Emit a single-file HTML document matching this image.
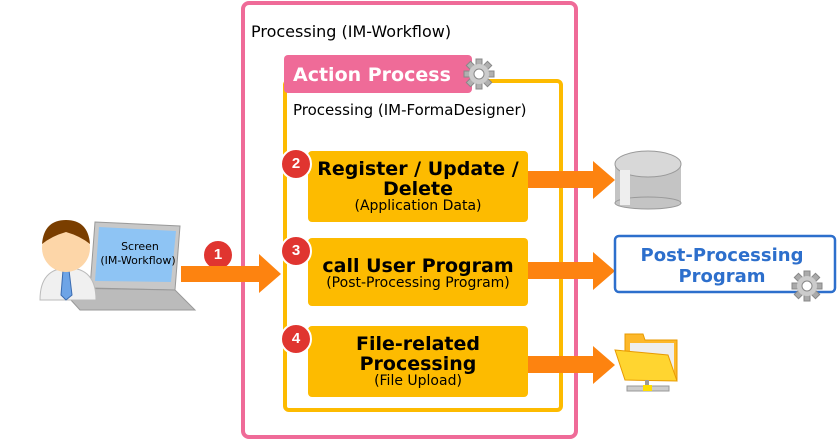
<!DOCTYPE html>
<html><head><style>
body{margin:0;width:837px;height:439px;background:#fff;position:relative;overflow:hidden;font-family:"Liberation Sans","DejaVu Sans",sans-serif}
.a{position:absolute}
.box{position:absolute;left:308px;width:220px;background:#fdbb00;border-radius:4px;text-align:center;color:#000}
.box b{font-family:"DejaVu Sans",sans-serif;font-size:19px;line-height:20px;display:block}
.box s{text-decoration:none;display:block;line-height:15px;font-family:"DejaVu Sans",sans-serif;font-size:14px}
.num{position:absolute;width:28px;height:28px;border-radius:50%;background:#e03530;border:2px solid #fff;color:#fff;font-weight:bold;font-size:15px;text-align:center;line-height:28px}
</style></head><body>
<div class="a" style="left:241px;top:1px;width:329px;height:430px;border:4px solid #ef6b98;border-radius:8px"></div>
<div class="a" style="left:251px;top:22px;font-size:16px;font-family:'DejaVu Sans',sans-serif">Processing (IM-Workflow)</div>
<div class="a" style="left:283px;top:79px;width:272px;height:325px;border:4px solid #fdbb00;border-radius:6px"></div>
<div class="a" style="left:284px;top:55px;width:188px;height:38px;background:#ef6b98;border-radius:4px;color:#fff;font-weight:bold;font-size:19px;line-height:40px;padding-left:9px;box-sizing:border-box;font-family:'DejaVu Sans',sans-serif">Action Process</div>
<svg class="a" style="left:463px;top:58px" width="32" height="32" viewBox="-16 -16 32 32"><g fill="#b0b0b0" stroke="#888"><rect x="-3" y="-15" width="6" height="30"/><rect x="-3" y="-15" width="6" height="30" transform="rotate(45)"/><rect x="-3" y="-15" width="6" height="30" transform="rotate(90)"/><rect x="-3" y="-15" width="6" height="30" transform="rotate(135)"/></g><circle r="10" fill="#ccc"/><circle r="5" fill="#fff" stroke="#888"/></svg>
<div class="a" style="left:293px;top:101px;font-size:15px;font-family:'DejaVu Sans',sans-serif">Processing (IM-FormaDesigner)</div>

<div class="box" style="top:151px;height:71px;padding-top:8px;box-sizing:border-box"><b>Register / Update /<br>Delete</b><s>(Application Data)</s></div>
<div class="box" style="top:238px;height:68px;padding-top:18px;box-sizing:border-box"><b>call User Program</b><s>(Post-Processing Program)</s></div>
<div class="box" style="top:326px;height:71px;padding-top:8px;box-sizing:border-box"><b>File-related<br>Processing</b><s>(File Upload)</s></div>
<div class="num" style="left:280px;top:148px">2</div>
<div class="num" style="left:280px;top:235px">3</div>
<div class="num" style="left:280px;top:323px">4</div>
<div class="num" style="left:202px;top:239px">1</div>

<svg class="a" style="left:0;top:0" width="837" height="439">
<g fill="#fd8310">
<path d="M181 266H259V254L281 274L259 293V282H181Z"/>
<path d="M528 171H593V161L615 180L593 199V188H528Z"/>
<path d="M528 262H593V252L615 271L593 290V279H528Z"/>
<path d="M528 356H593V346L615 365L593 384V373H528Z"/>
</g>
<rect x="615" y="165" width="66" height="38" fill="#c4c4c4"/>
<ellipse cx="648" cy="203" rx="33" ry="6" fill="#c4c4c4" stroke="#999"/>
<ellipse cx="648" cy="164" rx="33" ry="13" fill="#d8d8d8" stroke="#999"/>
<rect x="620" y="170" width="10" height="35" fill="#eee"/>
<rect x="615" y="236" width="220" height="56" rx="4" fill="#fff" stroke="#2d6fcc" stroke-width="2.5"/>
<text x="722" y="261" fill="#2d6fcc" font-weight="bold" font-size="18" text-anchor="middle" font-family="DejaVu Sans">Post-Processing</text>
<text x="722" y="282" fill="#2d6fcc" font-weight="bold" font-size="18" text-anchor="middle" font-family="DejaVu Sans">Program</text>
<g transform="translate(807,286)"><g fill="#aaa" stroke="#888"><rect x="-3" y="-15" width="6" height="30"/><rect x="-3" y="-15" width="6" height="30" transform="rotate(45)"/><rect x="-3" y="-15" width="6" height="30" transform="rotate(90)"/><rect x="-3" y="-15" width="6" height="30" transform="rotate(135)"/></g><circle r="10" fill="#ccc"/><circle r="5" fill="#fff" stroke="#888"/></g>
<path d="M625 334H643L645 340H677V380H625Z" fill="#fdb82a" stroke="#e89a00"/>
<rect x="630" y="343" width="44" height="30" fill="#eee"/>
<path d="M615 350L668 355L677 381L625 380Z" fill="#ffd530" stroke="#e89a00"/>
<rect x="645" y="380" width="4" height="8" fill="#999"/>
<rect x="627" y="386" width="42" height="5" fill="#ccc" stroke="#999"/>
<rect x="643" y="385" width="9" height="6" fill="#fd0"/>
<path d="M95 222L180 226L175 290L90 288Z" fill="#c8c8c8" stroke="#999"/>
<path d="M99 227L176 231L171 282L95 281Z" fill="#8ec4f4"/>
<path d="M60 288L175 290L195 310L80 310Z" fill="#bbb" stroke="#999"/>
<text x="140" y="250" font-size="11" text-anchor="middle" font-family="DejaVu Sans">Screen</text>
<text x="138" y="264" font-size="11" text-anchor="middle" font-family="DejaVu Sans">(IM-Workflow)</text>
<path d="M40 300Q40 268 68 268Q96 268 96 300Z" fill="#f0f0f0" stroke="#bbb"/>
<path d="M63 270L69 270L72 295L66 300L61 295Z" fill="#6ea4e6" stroke="#3a6bb0"/>
<circle cx="66" cy="248" r="24" fill="#fdd6a8"/>
<path d="M42 244Q44 220 66 220Q88 220 90 244Q80 236 66 232Q52 236 42 244Z" fill="#7a3e00"/>
</svg>
</body></html>
